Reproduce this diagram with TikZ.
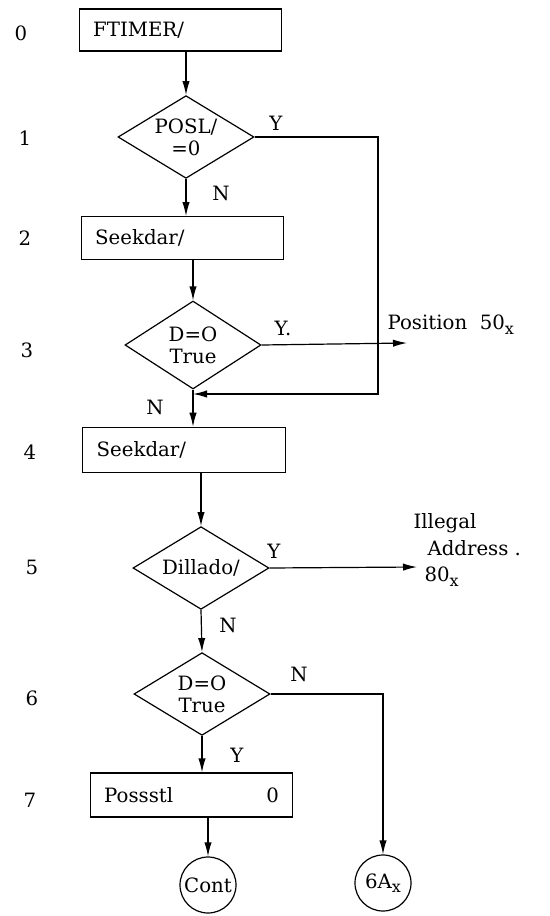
\documentclass[tikz,border=0pt]{standalone}
\usepackage{fontspec}
\setmainfont{DejaVu Serif}
\usetikzlibrary{shapes.geometric,arrows.meta}
\newcommand{\mysubx}{\raisebox{-3.5pt}{\fontsize{12pt}{12pt}\selectfont x}}
\begin{document}
\begin{tikzpicture}[x=0.75pt,y=-0.75pt,
  every node/.style={font=\fontsize{14.8pt}{16.5pt}\selectfont},
  arr/.style={line width=0.9pt,-{Latex[length=10.5pt,width=5.5pt]}},
  stepbox/.style={draw,line width=0.9pt,rectangle,minimum width=152pt,minimum height=31.5pt,
    inner xsep=10.5pt,inner ysep=0pt,text width=131pt,align=left},
  decide/.style={draw,line width=0.9pt,diamond,aspect=1.65,inner sep=0pt,
    minimum width=102pt,minimum height=62pt,align=center},
  term/.style={draw,line width=0.9pt,circle,minimum size=42pt,inner sep=0pt},
  tag/.style={inner sep=1pt}]
\useasboundingbox (0,0) rectangle (549,916);
% nodes
\node[stepbox] (b0) at (180.5,30) {FTIMER/};
\node[decide] (d1) at (186,137) {POSL/\\=0};
\node[stepbox,minimum height=32pt] (b2) at (182.5,238) {Seekdar/};
\node[decide,minimum height=66pt] (d3) at (193,345) {D=O\\True};
\node[stepbox,minimum height=34pt] (b4) at (184,450) {Seekdar/};
\node[decide] (d5) at (201,568) {Dillado/};
\node[decide] (d6) at (202,694) {D=O\\True};
\node[stepbox,minimum height=33pt] (b7) at (191.5,795) {Possstl\hfill 0\hspace*{12pt}};
\node[term] (cont) at (208,885) {Cont};
\node[term] (six) at (383,883) {6A\mysubx};
% free ends
\coordinate (c1) at (378,136);
\coordinate (c2) at (378,394);
\coordinate (c3) at (407,343);
\coordinate (c4) at (417,567);
% text outside
\node[tag,anchor=west] (pos) at (386,325) {Position\ \ 50\mysubx};
\node[tag,anchor=west] (ill1) at (412,523) {Illegal};
\node[tag,anchor=west] (ill2) at (426,548) {Address .};
\node[tag,anchor=west] (ill3) at (423,577) {80\mysubx};
% row numbers
\node[tag] (r0) at (21,33) {0};
\node[tag] (r1) at (25,138) {1};
\node[tag] (r2) at (25,238) {2};
\node[tag] (r3) at (27,350) {3};
\node[tag] (r4) at (30,452) {4};
\node[tag] (r5) at (32,567) {5};
\node[tag] (r6) at (32,698) {6};
\node[tag] (r7) at (30,800) {7};
% Y/N labels
\node[tag] (l1y) at (276,123) {Y};
\node[tag] (l1n) at (221,193) {N};
\node[tag] (l3y) at (283,328) {Y.};
\node[tag] (l3n) at (155,407) {N};
\node[tag] (l5y) at (274,551) {Y};
\node[tag] (l5n) at (228,625) {N};
\node[tag] (l6n) at (299,674) {N};
\node[tag] (l6y) at (237,755) {Y};
% connectors
\draw[arr] (b0.south -| d1.north) -- (d1.north);
\draw[arr] (d1.south) -- (d1.south |- b2.north);
\draw[arr] (b2.south -| d3.north) -- (d3.north);
\draw[arr] (d3.south) -- (d3.south |- b4.north);
\draw[arr] (b4.south -| d5.north) -- (d5.north);
\draw[arr] (d5.south) -- (d6.north);
\draw[arr] (d6.south) -- (d6.south |- b7.north);
\draw[arr] (b7.south -| cont.north) -- (cont.north);
\draw[arr] (d1.east) -- (d1.east -| c1) -- (c2) -- (c2 -| d3.south);
\draw[arr] (d3.east) -- (c3);
\draw[arr] (d5.east) -- (c4);
\draw[arr] (d6.east) -| (six.north);
\end{tikzpicture}
\end{document}
